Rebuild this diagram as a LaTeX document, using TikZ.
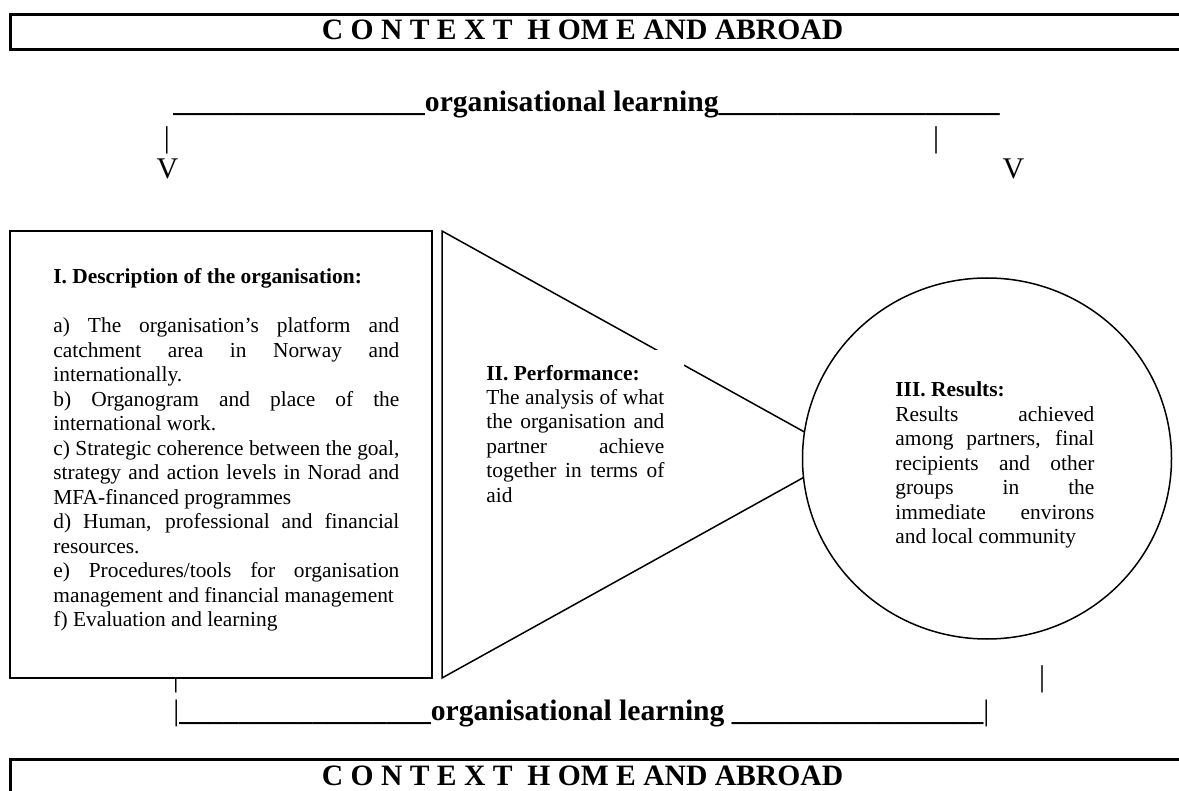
\documentclass[tikz,border=0pt]{standalone}
\usepackage{fontspec}
\setmainfont{Liberation Serif}
\usetikzlibrary{shapes.geometric}
\newcommand{\unders}[1]{\foreach \k in {1,...,#1}{\_}}

\begin{document}
\begin{tikzpicture}[x=0.5pt,y=-0.5pt,
    banner/.style={line width=1.5pt},
    bigbold/.style={font=\fontsize{14.8pt}{17pt}\selectfont\bfseries,inner sep=0pt},
    bigtext/.style={font=\fontsize{15pt}{18pt}\selectfont,inner sep=0pt,anchor=base},
    body/.style={font=\fontsize{10.7pt}{12.25pt}\selectfont,inner sep=0pt,align=justify,anchor=base west}]
    \useasboundingbox (0,0) rectangle (1179,791);
    % context banners
    \draw[banner] (1179,15) -- (10,15) -- (10,50) -- (1179,50);
    \node[bigbold,anchor=base] (ctxTop) at (582.5,40) {C O N T E X T\ \ H OM E AND ABROAD};
    \draw[banner] (1179,759) -- (10,759) -- (10,791);
    \node[bigbold,anchor=base] (ctxBot) at (582.5,785) {C O N T E X T\ \ H OM E AND ABROAD};
    % learning loop, top
    \node[bigbold,anchor=base west] (learnTop) at (173,112) {\unders{17}organisational learning\unders{19}};
    \node[bigtext] (barTL) at (167,148) {|};
    \node[bigtext] (barTR) at (936,148) {|};
    \node[bigtext] (vL) at (167.5,179) {V};
    \node[bigtext] (vR) at (1013.5,179) {V};
    % learning loop, bottom
    \node[bigtext] (barBL) at (176,686) {|};
    \node[bigtext] (barBR) at (1042,686) {|};
    \node[bigbold,anchor=base west] (learnBot) at (173,720) {{\mdseries|}\unders{17}organisational learning \unders{17}{\mdseries|}};
    % I. description
    \draw[line width=1pt,fill=white] (10,231) rectangle (432,678);
    \node[body,text width=173pt] (descr) at (53,284) {{\bfseries I. Description of the organisation:}\par\vskip12.25pt
        a) The organisation's platform and\linebreak catchment area in Norway and\linebreak internationally.\par
        b) Organogram and place of the\linebreak international work.\par
        c) Strategic coherence between the goal,\linebreak strategy and action levels in Norad and\linebreak MFA-financed programmes\par
        d) Human, professional and financial\linebreak resources.\par
        e) Procedures/tools for organisation\linebreak management and financial management\par
        f) Evaluation and learning};
    % II. performance
    \coordinate (triTop) at (442,231);
    \coordinate (triBot) at (442,678);
    \coordinate (triTip) at (845,454.5);
    \draw[line width=0.75pt] (triTop) -- (triTip) -- (triBot) -- cycle;
    \node[body,text width=89pt,fill=white,inner xsep=10pt,inner ysep=7.5pt] (perf) at (466,380) {{\bfseries II. Performance:}\par
        The analysis of what\linebreak the organisation and\linebreak partner achieve\linebreak together in terms of\linebreak aid};
    % III. results
    \node[ellipse,draw,fill=white,line width=0.75pt,inner sep=0pt,minimum width=184.5pt,minimum height=180.5pt] (res) at (987,458.5) {};
    \node[body,text width=99.5pt] (resText) at (895,397) {{\bfseries III. Results:}\par
        Results achieved\linebreak among partners, final\linebreak recipients and other\linebreak groups in the\linebreak immediate environs\linebreak and local community};
\end{tikzpicture}
\end{document}
